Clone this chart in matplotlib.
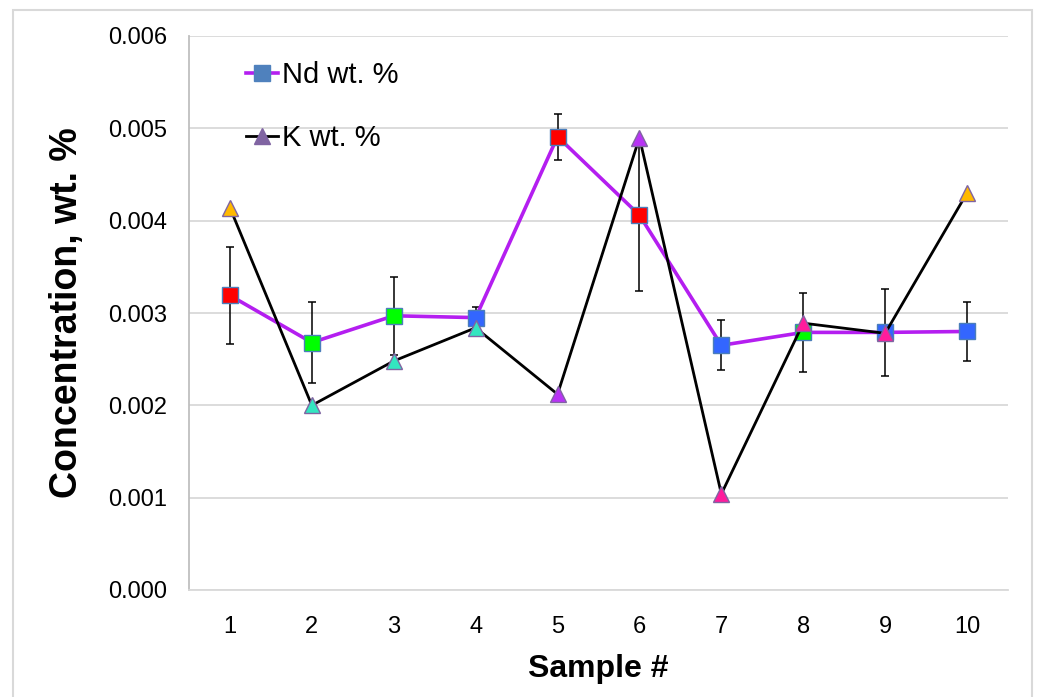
import matplotlib.pyplot as plt
from matplotlib.lines import Line2D
from matplotlib.patches import Rectangle

plt.rcParams['font.family'] = ['Liberation Sans', 'DejaVu Sans']

samples = [1, 2, 3, 4, 5, 6, 7, 8, 9, 10]
nd_wt = [0.00319, 0.00268, 0.00297, 0.00295, 0.00491, 0.00406, 0.00265, 0.00279, 0.00279, 0.00280]
nd_err = [0.00053, 0.00044, 0.00042, 0.00011, 0.00025, 0.00082, 0.00027, 0.00043, 0.00047, 0.00032]
k_wt = [0.00414, 0.00200, 0.00248, 0.00284, 0.00212, 0.00490, 0.00104, 0.00289, 0.00278, 0.00430]

nd_colors = ['#FF0000', '#00FF00', '#00FF00', '#3366FF', '#FF0000',
             '#FF0000', '#3366FF', '#00FF00', '#3366FF', '#3366FF']
k_colors = ['#FFB900', '#33E6C0', '#33E6C0', '#33E6C0', '#B833F5',
            '#B833F5', '#FF1C9C', '#FF1C9C', '#FF1C9C', '#FFB900']

nd_line = '#B41EF0'
grid_c = '#D9D9D9'

fig = plt.figure(figsize=(10.38, 6.97), dpi=100)
# outer chart frame
fig.patches.append(Rectangle((13 / 1038, -0.05), (1032 - 13) / 1038, 1.05 - 10 / 697,
                             transform=fig.transFigure, fill=False,
                             edgecolor='#D9D9D9', linewidth=1.5))
ax = fig.add_axes([189 / 1038, 1 - 590 / 697, (1008 - 189) / 1038, (590 - 36) / 697])

ax.errorbar(samples, nd_wt, yerr=nd_err, fmt='none', ecolor='black',
            elinewidth=1.1, capsize=3, capthick=1.1, zorder=2)
ax.plot(samples, nd_wt, color=nd_line, linewidth=2.6, zorder=3)
for x, y, c in zip(samples, nd_wt, nd_colors):
    ax.plot(x, y, marker='s', markersize=11, markerfacecolor=c,
            markeredgecolor='#4A7EBB', markeredgewidth=1.0, zorder=4)

ax.plot(samples, k_wt, color='black', linewidth=2.0, zorder=5)
for x, y, c in zip(samples, k_wt, k_colors):
    ax.plot(x, y, marker='^', markersize=12, markerfacecolor=c,
            markeredgecolor='#8064A2', markeredgewidth=1.0, zorder=6)

ax.set_xlim(0.5, 10.5)
ax.set_ylim(0, 0.006)
ax.set_xticks(samples)
ax.set_yticks([0, 0.001, 0.002, 0.003, 0.004, 0.005, 0.006])
ax.set_yticklabels(['0.000', '0.001', '0.002', '0.003', '0.004', '0.005', '0.006'])
ax.tick_params(axis='both', length=0, labelsize=17)
ax.tick_params(axis='y', pad=16)
ax.tick_params(axis='x', pad=19)
ax.yaxis.grid(True, color=grid_c, linewidth=1.3)
ax.set_axisbelow(True)
for s in ['top', 'right']:
    ax.spines[s].set_visible(False)
ax.spines['left'].set_color('#BFBFBF')
ax.spines['bottom'].set_color(grid_c)
ax.spines['left'].set_linewidth(1.3)
ax.spines['bottom'].set_linewidth(1.3)

ax.set_xlabel('Sample #', fontsize=23, fontweight='bold', labelpad=11)
ax.set_ylabel('Concentration, wt. %', fontsize=27, fontweight='bold', labelpad=16)

handles = [
    Line2D([0], [0], color=nd_line, linewidth=2.6, marker='s', markersize=11,
           markerfacecolor='#4F81BD', markeredgecolor='#4F81BD'),
    Line2D([0], [0], color='black', linewidth=2.0, marker='^', markersize=12,
           markerfacecolor='#8064A2', markeredgecolor='#8064A2'),
]
ax.legend(handles, ['Nd wt. %', 'K wt. %'], loc='upper left',
          bbox_to_anchor=(0.055, 0.976), frameon=False, fontsize=21,
          handlelength=1.1, handletextpad=0.15, labelspacing=1.2,
          borderaxespad=0)

fig.savefig('out.png', dpi=100)
